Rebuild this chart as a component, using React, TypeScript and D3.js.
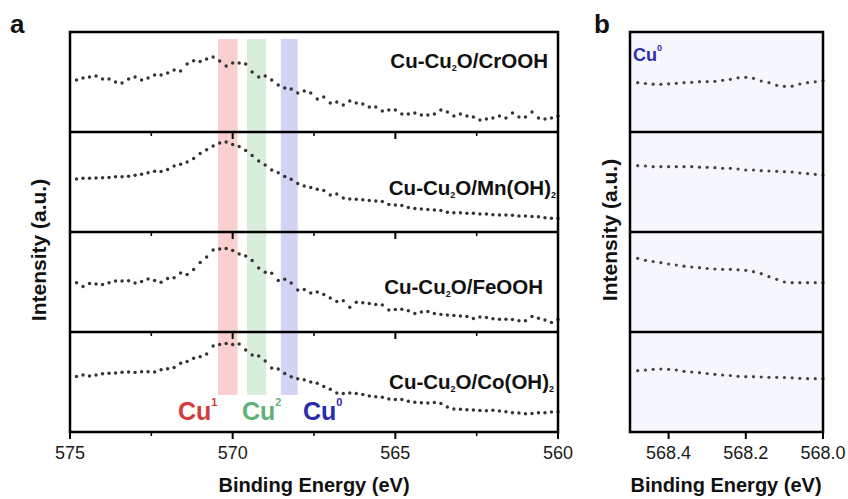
import React from "react";
import * as d3 from "d3";

// Shared binding-energy grid (eV) for panel a and panel b
const ENERGY_A: number[] = d3.range(75).map((i) => +(574.8 - 0.2 * i).toFixed(2));
const ENERGY_B: number[] = d3.range(25).map((i) => +(568.48 - 0.02 * i).toFixed(3));

const SAMPLES = ["CrOOH", "Mn(OH)2", "FeOOH", "Co(OH)2"];

// Panel a intensities (a.u., 0-100 per sub-panel)
const A_CROOH = [52,54,55,56,53,53,50,49,53,55,52,54,57,57,59,62,61,68,71.3,70.5,73,75,71,66,69,69,68,60,55,56,52,47,44,43,39,41,39,33,35,29,30,27,31,29,28,25,25,21,22,22,18,18,19,17,17,18,22,20,16,18,16,15,12,13,14,16,14,19,15,15,20,14,13,14,16];
const A_MNOH2 = [53,53.7,53.7,54,54.3,54.5,55.3,55.3,55.8,56.8,57.7,59.3,60.7,60.5,62.5,66,67.7,70,73.5,78.5,82.3,86,89,90,87.5,85.5,81.5,76.5,71,67,62,59.3,55.5,52.7,48.5,46,44.5,42.7,41.5,37,38,34,33,32.7,32.2,31.5,31,30.5,27.5,27,26.5,24.5,23.5,23,22.5,22,21.5,19.7,19.3,19.3,18.7,18.7,18,18,17.3,17,17,16.7,16,16,15.5,15.3,14.3,13.8,13.5];
const A_FEOOH = [49.3,45.5,48.5,48,47.5,49.3,51,51,51.2,49,50.5,53,51.5,49.8,53.5,54.3,59,57.5,62.5,69.5,75,82,83,83.5,81.5,78,76,71.5,64,59.8,58.7,51.5,52.8,49,42,42.5,39,40,37.5,34,30.5,31.3,24.7,29.8,29.2,28.5,27.5,27,22,22.5,22.8,21.3,18.5,20,20.5,18.5,17.6,17,16.5,16,15.5,13.5,15,14.5,13.2,12.7,12.7,12.5,11.3,11.3,15.5,13.7,12,9.5,12.5];
const A_COOH2 = [55.5,57,56,57,58.2,58.7,59,59.8,60,59.6,60.3,60.2,60,62.2,63.2,64.5,68.8,70.5,73.8,75.3,78,86,87.5,88.5,87.5,88,82,77,76,71,64,63,58.5,55.3,53.3,52.2,50,48.8,45.5,42.8,39,38.5,39,38.5,37.5,36,35.3,34.8,33,32.5,32.5,30.8,29.8,29.3,29,29.5,28.5,25,23,22.7,22.2,22,21.5,21.3,21.8,21,20.3,19.3,19,18.3,18.5,19.2,19.3,20,20.3];

// Panel b intensities (a.u., 0-100 per sub-panel)
const B_CROOH = [49.3,48.5,47.8,47.7,48.2,48.7,49.3,49.7,50.3,50.3,50.7,51.7,52.7,54.2,54.7,53.7,51,49.3,46.7,45.7,45.8,48,49.3,50.2,51.3];
const B_MNOH2 = [66.3,66,65.3,65.3,65.3,65.3,65.3,65.3,64.8,64.7,64.3,63.7,63.7,63,62,62,61.3,61,60.7,60.3,60,59,58.3,57.7,57];
const B_FEOOH = [73.7,71.7,70.5,69.3,68,67,65.8,65,64.3,63.5,63,62.7,62.7,62.2,61.7,60.3,58.3,55.3,52.7,50,49.3,49.3,49.3,49.3,49.3];
const B_COOH2 = [61.3,62,62.7,63,62.7,62,60.7,60,59.3,58.5,57.7,57,56.5,55.7,55.3,55.3,55,54.7,54.7,54.5,54.2,53.7,53.3,53.3,53.3];

const SERIES_A = [A_CROOH, A_MNOH2, A_FEOOH, A_COOH2];
const SERIES_B = [B_CROOH, B_MNOH2, B_FEOOH, B_COOH2];

// Reference bands (eV)
const BANDS = [
  { lo: 569.85, hi: 570.45, color: "#f9cfcf", label: "Cu", sup: "1", text: "#d43b3b" },
  { lo: 568.97, hi: 569.56, color: "#d8eedb", label: "Cu", sup: "2", text: "#62b276" },
  { lo: 568.0, hi: 568.52, color: "#d3d3f6", label: "Cu", sup: "0", text: "#2b2bb0" },
];

const A_MAJOR = [575, 570, 565, 560];
const A_MINOR = [572.5, 567.5, 562.5];
const B_TICKS = [568.4, 568.2, 568.0];

const FONT = "'Liberation Sans', Arial, Helvetica, sans-serif";

const ROW_TOP = 32;
const ROW_H = 100;

function SampleLabel({ name, x, y }: { name: string; x: number; y: number }) {
  const hasSub = name.endsWith("2");
  const main = hasSub ? name.slice(0, -1) : name;
  return (
    <text x={x} y={y} textAnchor="end" fontFamily={FONT} fontWeight="bold" fontSize={20.5} fill="#111">
      Cu-Cu
      <tspan fontSize={9} dy={3}>2</tspan>
      <tspan dy={-3}>O/{main}</tspan>
      {hasSub ? <tspan fontSize={9} dy={3}>2</tspan> : null}
    </text>
  );
}

export default function App() {
  const xA = d3.scaleLinear().domain([575, 560]).range([70, 558]);
  const xB = d3.scaleLinear().domain([568.5, 568.0]).range([630, 823]);
  const rowY = (r: number) =>
    d3.scaleLinear().domain([0, 100]).range([ROW_TOP + (r + 1) * ROW_H, ROW_TOP + r * ROW_H]);

  const labelPos = [
    { x: 548, y: 68 },
    { x: 556, y: 195 },
    { x: 543, y: 294 },
    { x: 554, y: 389 },
  ];

  const bottom = ROW_TOP + 4 * ROW_H;

  return (
    <svg width={848} height={499} style={{ display: "block", position: "absolute", left: 0, top: 0 }}>
      <rect x={0} y={0} width={848} height={499} fill="#fff" />

      {/* Panel b background */}
      <rect x={xB(568.5)} y={ROW_TOP} width={xB(568.0) - xB(568.5)} height={4 * ROW_H} fill="#f6f6fd" />

      {/* Bands */}
      {BANDS.map((b, i) => (
        <rect key={i} x={xA(b.hi)} y={39} width={xA(b.lo) - xA(b.hi)} height={356} fill={b.color} />
      ))}

      {/* Panel a dots */}
      {SERIES_A.map((s, r) => {
        const y = rowY(r);
        return (
          <g key={r}>
            {s.map((v, i) => (
              <circle key={i} cx={xA(ENERGY_A[i])} cy={y(v)} r={1.7} fill="#333" />
            ))}
          </g>
        );
      })}

      {/* Panel b dots */}
      {SERIES_B.map((s, r) => {
        const y = rowY(r);
        return (
          <g key={r}>
            {s.map((v, i) => (
              <circle key={i} cx={xB(ENERGY_B[i])} cy={y(v)} r={1.6} fill="#444" />
            ))}
          </g>
        );
      })}

      {/* Frames panel a */}
      <rect x={70} y={ROW_TOP} width={488} height={4 * ROW_H} fill="none" stroke="#000" strokeWidth={2.5} />
      {[1, 2, 3].map((r) => (
        <line key={r} x1={70} x2={558} y1={ROW_TOP + r * ROW_H} y2={ROW_TOP + r * ROW_H} stroke="#000" strokeWidth={2.5} />
      ))}
      {/* ticks panel a */}
      {[1, 2, 3, 4].map((r) => (
        <g key={r}>
          {A_MAJOR.map((t) => (
            <line key={t} x1={xA(t)} x2={xA(t)} y1={ROW_TOP + r * ROW_H} y2={ROW_TOP + r * ROW_H + 7} stroke="#000" strokeWidth={2} />
          ))}
          {A_MINOR.map((t) => (
            <line key={t} x1={xA(t)} x2={xA(t)} y1={ROW_TOP + r * ROW_H} y2={ROW_TOP + r * ROW_H + 4} stroke="#000" strokeWidth={1.5} />
          ))}
        </g>
      ))}

      {/* Frames panel b */}
      <rect x={xB(568.5)} y={ROW_TOP} width={xB(568.0) - xB(568.5)} height={4 * ROW_H} fill="none" stroke="#000" strokeWidth={2.5} />
      {[1, 2, 3].map((r) => (
        <line key={r} x1={xB(568.5)} x2={xB(568.0)} y1={ROW_TOP + r * ROW_H} y2={ROW_TOP + r * ROW_H} stroke="#000" strokeWidth={2.5} />
      ))}
      {B_TICKS.map((t) => (
        <line key={t} x1={xB(t)} x2={xB(t)} y1={bottom} y2={bottom + 7} stroke="#000" strokeWidth={2} />
      ))}

      {/* Tick labels */}
      {A_MAJOR.map((t) => (
        <text key={t} x={xA(t)} y={bottom + 27} textAnchor="middle" fontFamily={FONT} fontSize={18} fill="#1a1a1a">
          {t}
        </text>
      ))}
      {B_TICKS.map((t) => (
        <text key={t} x={xB(t)} y={bottom + 27} textAnchor="middle" fontFamily={FONT} fontSize={18} fill="#1a1a1a">
          {t.toFixed(1)}
        </text>
      ))}

      {/* Axis titles */}
      <text x={314} y={492} textAnchor="middle" fontFamily={FONT} fontWeight="bold" fontSize={20} fill="#111">
        Binding Energy (eV)
      </text>
      <text x={726} y={492} textAnchor="middle" fontFamily={FONT} fontWeight="bold" fontSize={20} fill="#111">
        Binding Energy (eV)
      </text>
      <text transform="translate(46,250) rotate(-90)" textAnchor="middle" fontFamily={FONT} fontWeight="bold" fontSize={21} fill="#111">
        Intensity (a.u.)
      </text>
      <text transform="translate(617,230) rotate(-90)" textAnchor="middle" fontFamily={FONT} fontWeight="bold" fontSize={21} fill="#111">
        Intensity (a.u.)
      </text>

      {/* Panel letters */}
      <text x={10} y={33} fontFamily={FONT} fontWeight="bold" fontSize={26} fill="#111">a</text>
      <text x={594} y={33} fontFamily={FONT} fontWeight="bold" fontSize={26} fill="#111">b</text>

      {/* Sample labels */}
      {SAMPLES.map((s, i) => (
        <SampleLabel key={s} name={s} x={labelPos[i].x} y={labelPos[i].y} />
      ))}

      {/* Band labels */}
      {BANDS.map((b, i) => {
        const cx = [178, 242, 303][i];
        return (
          <text key={i} x={cx} y={420} fontFamily={FONT} fontWeight="bold" fontSize={25} fill={b.text}>
            {b.label}
            <tspan fontSize={11} dy={-14}>{b.sup}</tspan>
          </text>
        );
      })}

      {/* Cu0 label panel b */}
      <text x={633} y={61} fontFamily={FONT} fontWeight="bold" fontSize={18} fill="#2b2bb0">
        Cu
        <tspan fontSize={9} dy={-10}>0</tspan>
      </text>
    </svg>
  );
}
